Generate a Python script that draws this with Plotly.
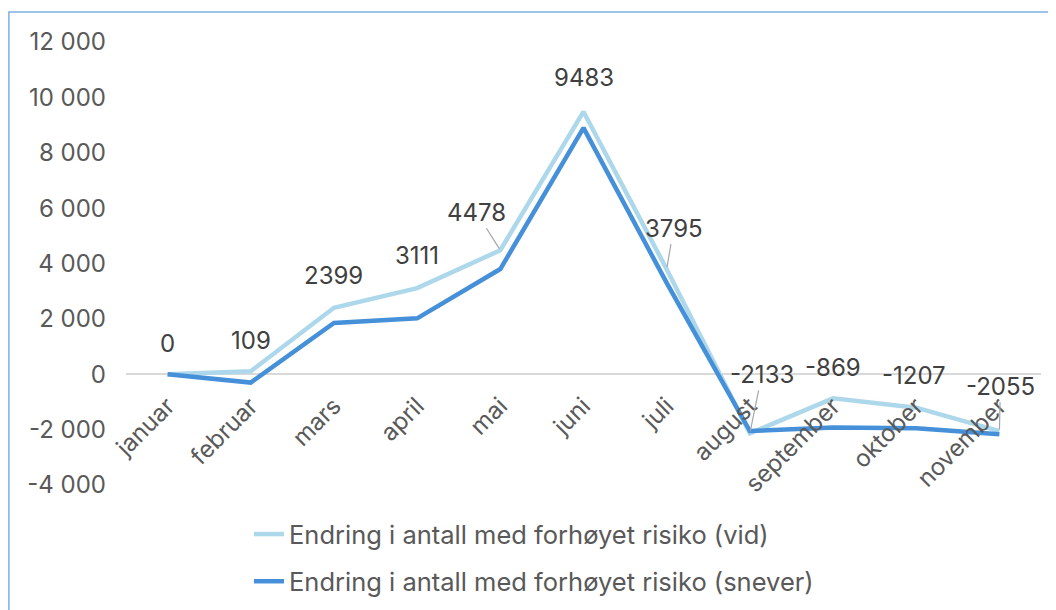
import plotly.graph_objects as go

# Data
months = ["januar", "februar", "mars", "april", "mai", "juni",
          "juli", "august", "september", "oktober", "november"]
vid = [0, 109, 2399, 3111, 4478, 9483, 3795, -2133, -869, -1207, -2055]
snever = [0, -300, 1850, 2020, 3800, 8900, 3300, -2050, -1920, -1950, -2170]

y_ticks = [-4000, -2000, 0, 2000, 4000, 6000, 8000, 10000, 12000]
y_tick_text = ["-4 000", "-2 000", "0", "2 000", "4 000", "6 000", "8 000", "10 000", "12 000"]

# label offsets in px (dx, dy); leader line where needed
label_offsets = [(0, -31), (0, -31), (0, -32), (0, -33), (-24, -38), (0, -34),
                 (7, -41), (12, -59), (0, -31), (-2, -32), (1, -45)]
leader = [False, False, False, False, True, False, True, True, False, False, True]

FONT = "Inter"
LIGHT = "#ADD8EB"
DARK = "#4590D8"

fig = go.Figure()

fig.add_trace(go.Scatter(
    x = months, y = vid, mode = "lines",
    line = dict(color = LIGHT, width = 4.5),
    name = "Endring i antall med forhøyet risiko (vid)",
    legendgroup = "a"
))
fig.add_trace(go.Scatter(
    x = months, y = snever, mode = "lines",
    line = dict(color = DARK, width = 4.5),
    name = "Endring i antall med forhøyet risiko (snever)",
    legendgroup = "b"
))

# Data labels for the "vid" series
for m, v, (dx, dy), ld in zip(months, vid, label_offsets, leader):
    if ld:
        fig.add_annotation(x = m, y = v, text = str(v), showarrow = True,
                           arrowhead = 0, arrowwidth = 1.2, arrowcolor = "#a6a6a6",
                           ax = dx, ay = dy, standoff = 2,
                           font = dict(family = FONT, size = 24, color = "#404040"))
    else:
        fig.add_annotation(x = m, y = v, text = str(v), showarrow = False,
                           xshift = dx, yshift = -dy,
                           font = dict(family = FONT, size = 24, color = "#404040"))

# Outer border (Excel chart area)
fig.add_shape(type = "rect", xref = "paper", yref = "paper",
              x0 = -0.128, x1 = 1.05, y0 = -0.4, y1 = 1.0677,
              line = dict(color = "#7DB0E4", width = 1.5), layer = "below")

fig.update_layout(
    width = 1048, height = 602,
    margin = dict(l = 118, r = 15, t = 34, b = 125, autoexpand = False),
    plot_bgcolor = "white", paper_bgcolor = "white",
    font = dict(family = FONT, size = 24, color = "#595959"),
    xaxis = dict(
        range = [-0.5, 10.5], showgrid = False, showline = False, zeroline = False,
        tickangle = -45, ticks = "", anchor = "free", position = 0.25,
        tickmode = "linear", dtick = 1, automargin = False,
        ticklabelstandoff = 12,
        tickfont = dict(family = FONT, size = 24, color = "#595959")
    ),
    yaxis = dict(
        range = [-4000, 12000], tickvals = y_ticks, ticktext = y_tick_text,
        showgrid = False, showline = False, zeroline = True, automargin = False,
        zerolinecolor = "#d9d9d9", zerolinewidth = 1.5,
        ticks = "", ticklabelstandoff = 19,
        tickfont = dict(family = FONT, size = 24, color = "#595959")
    ),
    showlegend = True,
    legend = dict(
        x = (241 - 118) / 915, y = (477 - 503) / 443, xanchor = "left", yanchor = "top",
        traceorder = "grouped", tracegroupgap = 11,
        font = dict(family = FONT, size = 25.5, color = "#595959"),
        bgcolor = "rgba(0,0,0,0)"
    )
)

fig.write_html("out.html")
